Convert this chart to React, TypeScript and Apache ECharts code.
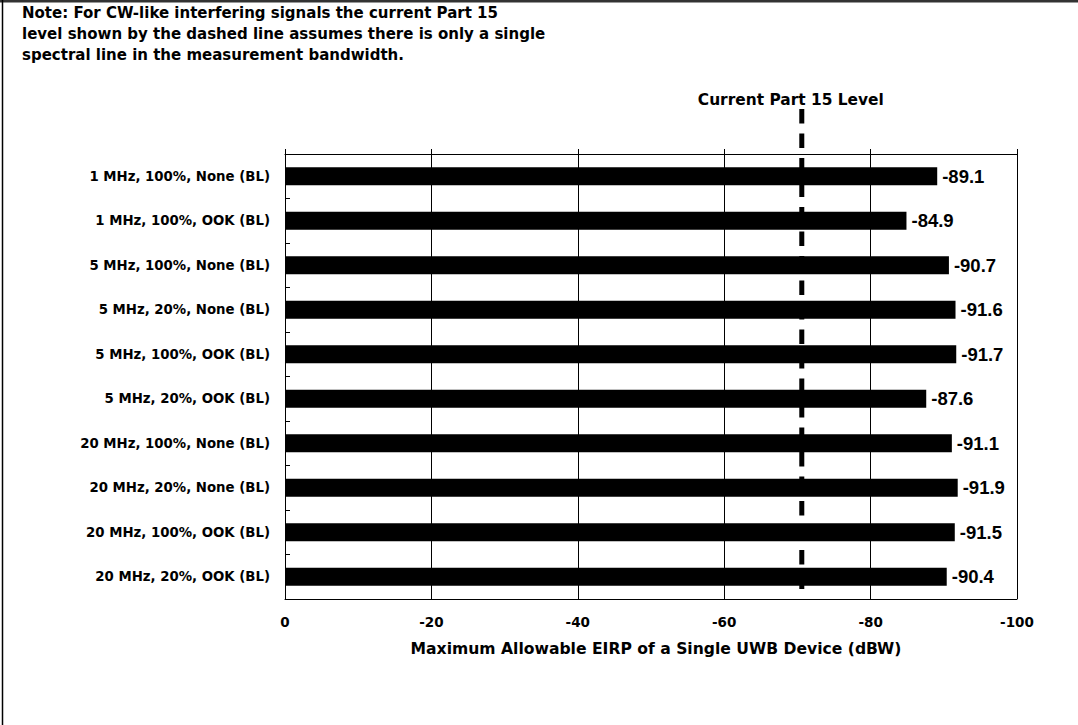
import React, { useEffect, useRef } from "react";
import * as echarts from "echarts";

const categories = [
  "1 MHz, 100%, None (BL)",
  "1 MHz, 100%, OOK (BL)",
  "5 MHz, 100%, None (BL)",
  "5 MHz, 20%, None (BL)",
  "5 MHz, 100%, OOK (BL)",
  "5 MHz, 20%, OOK (BL)",
  "20 MHz, 100%, None (BL)",
  "20 MHz, 20%, None (BL)",
  "20 MHz, 100%, OOK (BL)",
  "20 MHz, 20%, OOK (BL)",
];
const values = [-89.1, -84.9, -90.7, -91.6, -91.7, -87.6, -91.1, -91.9, -91.5, -90.4];
const part15Level = -70.6;
const xMin = -100;
const xMax = 0;
const xInterval = 20;
const noteLines = [
  "Note: For CW-like interfering signals the current Part 15",
  "level shown by the dashed line assumes there is only a single",
  "spectral line in the measurement bandwidth.",
];
const part15Label = "Current Part 15 Level";
const xAxisTitle = "Maximum Allowable EIRP of a Single UWB Device (dBW)";

const FONT = "'Liberation Sans', Arial, Helvetica, sans-serif";
const WIDE = "'DejaVu Sans', 'Liberation Sans', sans-serif";

export default function App() {
  const ref = useRef<HTMLDivElement>(null);
  useEffect(() => {
    document.body.style.margin = "0";
    const chart = echarts.init(ref.current!, null, { renderer: "svg" });
    const gridTop = 154;
    const gridBottom = 126;
    chart.setOption({
      animation: false,
      backgroundColor: "#ffffff",
      grid: { left: 285, right: 61, top: gridTop, bottom: gridBottom, containLabel: false },
      xAxis: [
        {
          type: "value",
          min: xMin,
          max: xMax,
          interval: xInterval,
          inverse: true,
          position: "bottom",
          axisLine: { show: true, lineStyle: { color: "#000", width: 1 } },
          axisTick: { show: false },
          splitLine: { show: true, lineStyle: { color: "#000", width: 1 } },
          axisLabel: {
            color: "#000",
            fontFamily: WIDE,
            fontWeight: "bold",
            fontSize: 13.5,
            margin: 16,
          },
          name: xAxisTitle,
          nameLocation: "middle",
          nameGap: 42,
          nameTextStyle: {
            color: "#000",
            fontFamily: WIDE,
            fontWeight: "bold",
            fontSize: 15.6,
            padding: [0, 0, 0, 10],
          },
        },
        {
          type: "value",
          min: xMin,
          max: xMax,
          interval: xInterval,
          inverse: true,
          position: "top",
          axisLine: { show: true, lineStyle: { color: "#000", width: 1 } },
          axisTick: { show: true, inside: false, length: 5, lineStyle: { color: "#000" } },
          splitLine: { show: false },
          axisLabel: { show: false },
        },
      ],
      yAxis: [
        {
          type: "category",
          data: categories,
          inverse: true,
          position: "left",
          axisLine: { show: true, lineStyle: { color: "#000", width: 1 } },
          axisTick: { show: true, inside: true, length: 5, lineStyle: { color: "#000" } },
          axisLabel: {
            color: "#000",
            fontFamily: WIDE,
            fontWeight: "bold",
            fontSize: 13.3,
            margin: 15,
          },
        },
        {
          type: "category",
          data: categories,
          inverse: true,
          position: "right",
          axisLine: { show: true, lineStyle: { color: "#000", width: 1 } },
          axisTick: { show: false },
          axisLabel: { show: false },
        },
      ],
      series: [
        {
          type: "bar",
          xAxisIndex: 0,
          yAxisIndex: 0,
          data: values,
          barWidth: 18,
          itemStyle: { color: "#000" },
          label: {
            show: true,
            position: "right",
            distance: 5,
            color: "#000",
            fontFamily: FONT,
            fontWeight: "bold",
            fontSize: 18.5,
            formatter: (p: any) => Number(p.value).toFixed(1),
          },
        },
      ],
    });

    const px = chart.convertToPixel({ xAxisIndex: 0 }, part15Level) as number;
    const h = chart.getHeight();
    const w = chart.getWidth();
    chart.setOption({
      graphic: [
        {
          type: "line",
          shape: { x1: 0, y1: 1, x2: w, y2: 1 },
          style: { stroke: "#333", lineWidth: 3 },
          z: 100,
        },
        {
          type: "line",
          shape: { x1: 2.5, y1: 0, x2: 2.5, y2: h },
          style: { stroke: "#000", lineWidth: 1.5 },
          z: 100,
        },
        ...noteLines.map((t, i) => ({
          type: "text",
          x: 22,
          y: 13 + i * 21,
          style: {
            text: t,
            fill: "#000",
            font: `bold 15px ${WIDE}`,
            textAlign: "left",
            textVerticalAlign: "middle",
          },
          z: 100,
        })),
        {
          type: "text",
          x: px - 11,
          y: 100,
          style: {
            text: part15Label,
            fill: "#000",
            font: `bold 15.4px ${WIDE}`,
            textAlign: "center",
            textVerticalAlign: "middle",
          },
          z: 100,
        },
        {
          type: "line",
          shape: { x1: px, y1: 109, x2: px, y2: h - gridBottom },
          style: { stroke: "#000", lineWidth: 5, lineDash: [14.5, 10], lineCap: "butt" },
          z: 100,
        },
      ],
    });
    return () => chart.dispose();
  }, []);
  return <div ref={ref} style={{ width: 1078, height: 725 }} />;
}
